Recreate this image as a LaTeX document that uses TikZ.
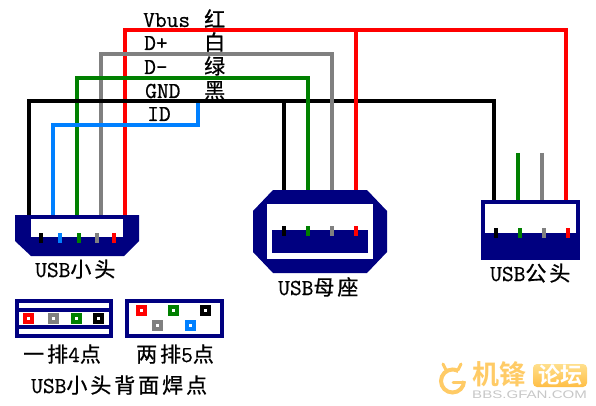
\documentclass[tikz,border=0pt]{standalone}
\usepackage{fontspec}
\setmainfont[Scale=1.14,FakeBold=0.6]{Latin Modern Mono}
\newfontfamily\cjk[LetterSpace=14,FakeBold=0.8]{Noto Sans CJK SC}
\newfontfamily\cjkb{Noto Sans CJK SC Bold}
\newfontfamily\logolat{Liberation Sans}
\definecolor{usbnavy}{HTML}{000080}
\definecolor{wred}{HTML}{FF0000}
\definecolor{wgray}{HTML}{808080}
\definecolor{wgreen}{HTML}{008000}
\definecolor{wblue}{HTML}{0080FF}
\definecolor{logoor}{HTML}{FFCB66}
\definecolor{logotop}{HTML}{FFDF8C}
\definecolor{logobot}{HTML}{FFBE45}
\tikzset{
  wire/.style={line width=4pt,line join=miter},
  shell/.style={fill=usbnavy,draw=none},
  hole/.style={fill=white,draw=none},
  lab/.style={anchor=base west,inner sep=0pt,font=\fontsize{20}{20}\selectfont,text=black},
  cjklab/.style={lab,font=\fontsize{21}{21}\selectfont\cjk},
  pin/.style={inner sep=0pt,minimum width=4pt,minimum height=10pt,draw=none},
  pad/.style={inner sep=0pt,minimum size=11pt,draw=none,path picture={\fill[white] (path picture bounding box.center) ++(-1.2pt,-1.2pt) rectangle ++(2.4pt,2.4pt);}},
}
\newcommand{\zh}[1]{{\fontsize{21}{21}\selectfont\cjk #1}}
\begin{document}
\begin{tikzpicture}[x=1pt,y=-1pt]
\useasboundingbox (0,0) rectangle (596,406);
% labels
\node[lab] (t1) at (143,27) {Vbus};
\node[cjklab] (c1) at (204,27) {红};
\node[lab] (t2) at (144,50) {D+};
\node[cjklab] (c2) at (204,50) {白};
\node[lab] (t3) at (144,74) {D-};
\node[cjklab] (c3) at (204,74) {绿};
\node[lab] (t4) at (145,98) {GND};
\node[cjklab] (c4) at (204,98) {黑};
\node[lab] (t5) at (147,121) {ID};
\node[lab] (n1) at (35,277) {USB\zh{小头}};
\node[lab] (n2) at (278,295) {USB\zh{母座}};
\node[lab] (n3) at (490,281) {USB\zh{公头}};
\node[lab] (n4) at (23,362) {\zh{一排}4\zh{点}};
\node[lab] (n5) at (136,362) {\zh{两排}5\zh{点}};
\node[lab] (n6) at (31,393) {USB\zh{小头背面焊点}};
% endpoints
\foreach \n/\x/\y in {
 rA/125/215, rB/125/30, rC/566/30, rD/566/200, rE/356/30, rF/356/190,
 gA/101/215, gB/101/54, gC/332/54, gD/332/190,
 vA/77/215, vB/77/78, vC/308/78, vD/308/190,
 kA/29/215, kB/29/101, kC/494/101, kD/494/200, kE/284/101, kF/284/190,
 bA/53/215, bB/53/125, bC/198/125, bD/198/101,
 sA/518/153, sB/518/200, sC/542/153, sD/542/200}
 {\coordinate (\n) at (\x,\y);}
% wires
\draw[wire,wred] (rA) -- (rB) -- (rC) -- (rD);
\draw[wire,wgray] (gA) -- (gB) -- (gC) -- (gD);
\draw[wire,wgreen] (vA) -- (vB) -- (vC) -- (vD);
\draw[wire,wblue] (bD) -- (bC) -- (bB) -- (bA);
\draw[wire,black] (kA) -- (kB) -- (kC) -- (kD);
\draw[wire,black] (kE) -- (kF);
\draw[wire,wblue] (bC) -- (bB) -- (bA);
\draw[wire,wred] (rE) -- (rF);
\draw[wire,wgray] (gC) -- (gD);
\draw[wire,wgreen] (vC) -- (vD);
\draw[wire,wgreen] (sA) -- (sB);
\draw[wire,wgray] (sC) -- (sD);
% micro plug
\fill[shell] (15,215) -- (139,215) -- (139,241) -- (124,256) -- (31,256) -- (15,241) -- cycle;
\fill[hole] (31,219) rectangle (123,237);
\foreach \n/\x/\c in {a/41/black,b/60/wblue,c/79/wgreen,d/97/wgray,e/114/wred}
  \node[pin,fill=\c] (mp\n) at (\x,238) {};
% socket
\fill[shell] (273,190) -- (367,190) -- (387,211) -- (387,252) -- (367,273) -- (273,273) -- (253,252) -- (253,211) -- cycle;
\fill[hole] (267,204) rectangle (373,259);
\fill[shell] (272,230) rectangle (368,253);
\foreach \n/\x/\c in {a/284/black,b/308/wgreen,c/332/wgray,d/356/wred}
  \node[pin,fill=\c] (sp\n) at (\x,231) {};
% male
\fill[shell] (481,200) rectangle (580,260);
\fill[hole] (485,204) rectangle (576,233);
\foreach \n/\x/\c in {a/496/black,b/520/wgreen,c/544/wgray,d/568/wred}
  \node[pin,fill=\c] (ap\n) at (\x,233) {};
% back box 1
\fill[shell] (15,299) rectangle (113,338);
\fill[hole] (19,303) rectangle (109,308);
\fill[hole] (19,312) rectangle (109,325);
\fill[hole] (19,329) rectangle (109,334);
\foreach \n/\x/\y/\c in {a/28.5/318.5/wred,b/53.5/318.5/wgray,c/76.5/318.5/wgreen,d/98.5/318.5/black}
  \node[pad,fill=\c] (pa\n) at (\x,\y) {};
% back box 2
\fill[shell] (125,299) rectangle (224,338);
\fill[hole] (129,303) rectangle (220,334);
\foreach \n/\x/\y/\c in {a/141.5/310.5/wred,b/173.5/310.5/wgreen,c/205.5/310.5/black,d/157.5/325.5/wgray,e/190.5/325.5/wblue}
  \node[pad,fill=\c] (pb\n) at (\x,\y) {};
% watermark
\draw[logoor,line width=4pt] (464,381) arc[start angle=0,end angle=-300,radius=11.5pt];
\draw[logoor,line width=3pt,line cap=round] (446,370) -- (443,364);
\draw[logoor,line width=3pt,line cap=round] (458,370) -- (461,364);
\draw[logoor,line width=3pt,line cap=round] (453,382) -- (464,382);
\node[inner sep=0pt,anchor=base west,text=logoor,font=\fontsize{27}{27}\selectfont] (lgA) at (472,384) {\cjkb 机锋};
\node[inner sep=0pt,top color=logotop,bottom color=logobot,rounded corners=4pt,minimum width=54pt,minimum height=23pt,text=white,font=\fontsize{22}{22}\selectfont] (lgB) at (560,375.5) {\cjkb 论坛};
\node[inner sep=0pt,anchor=base west,text=black!22,font=\fontsize{11}{11}\selectfont\logolat] (lgC) at (472,398) {\scalebox{1.37}[1]{BBS.GFAN.COM}};
\end{tikzpicture}
\end{document}
